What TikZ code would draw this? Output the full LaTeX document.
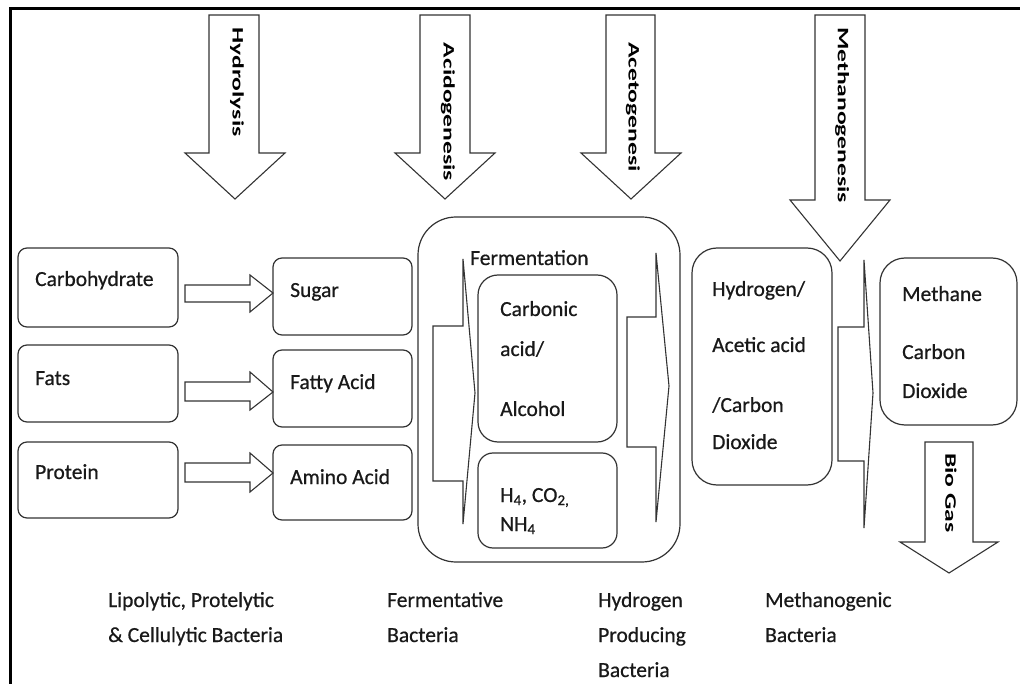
\documentclass[tikz,border=0pt]{standalone}
\usepackage{fontspec}
\setmainfont{Carlito}
\newfontfamily\darkfont{Carlito}[FakeBold=0.6]
\begin{document}
\begin{tikzpicture}[x=1pt,y=-1pt,
  box/.style={draw=black!80, line width=1.2pt, fill=white, rounded corners=#1, inner sep=0pt},
  box/.default=9pt,
  blk/.style={draw=black!80, line width=1.1pt, fill=white, line join=miter},
  txt/.style={anchor=base west, inner sep=0pt, text=black!90, font=\darkfont\fontsize{21.5}{26}\selectfont},
  vtxt/.style={rotate=-90, inner sep=0pt, font=\bfseries\fontsize{16}{16}\selectfont},
  frame/.style={draw=black, line width=3pt}]
\useasboundingbox (0,0) rectangle (1020,684);
% frame
\draw[frame] (10.5,684) -- (10.5,8.5) -- (1020,8.5);

% process arrows (down)
\draw[blk] (209,15) -- (259,15) -- (259,153) -- (285,153) -- (235,199) -- (185,153) -- (209,153) -- cycle;
\node[vtxt] (hyd) at (237,82) {\scalebox{1.6}[1]{Hydrolysis}};
\draw[blk] (420,15) -- (470,15) -- (470,153) -- (495,153) -- (445,199) -- (395,153) -- (420,153) -- cycle;
\node[vtxt] (acid) at (448,112) {\scalebox{1.6}[1]{Acidogenesis}};
\draw[blk] (606,15) -- (655,15) -- (655,153) -- (681,153) -- (631,199) -- (581,153) -- (606,153) -- cycle;
\node[vtxt] (acet) at (633,107) {\scalebox{1.6}[1]{Acetogenesi}};
\draw[blk] (815,15) -- (865,15) -- (865,200) -- (890,200) -- (840,261) -- (790,200) -- (815,200) -- cycle;
\node[vtxt] (meth) at (842,115) {\scalebox{1.6}[1]{Methanogenesis}};

% left boxes
\node[box, minimum width=160pt, minimum height=79pt] (carb) at (98,287.5) {};
\node[box, minimum width=160pt, minimum height=77pt] (fats) at (98,383.5) {};
\node[box, minimum width=160pt, minimum height=76pt] (prot) at (98,480) {};
\node[txt] (carbt) at (35,286) {Carbohydrate};
\node[txt] (fatst) at (35,385) {Fats};
\node[txt] (prott) at (35,479) {Protein};

\node[box, minimum width=139pt, minimum height=77pt] (sug) at (342.5,296.5) {};
\node[box, minimum width=139pt, minimum height=77pt] (fac) at (342.5,388.5) {};
\node[box, minimum width=139pt, minimum height=75pt] (ami) at (342.5,482.5) {};
\node[txt] (sugt) at (290,297) {Sugar};
\node[txt] (fact) at (290,389) {Fatty Acid};
\node[txt] (amit) at (290,484) {Amino Acid};

% small arrows
\draw[blk] (185,285) -- (250,285) -- (250,275) -- (273,293) -- (250,312) -- (250,302) -- (185,302) -- cycle;
\draw[blk] (185,382) -- (250,382) -- (250,372) -- (273,392) -- (250,410) -- (250,401) -- (185,401) -- cycle;
\draw[blk] (185,463) -- (250,463) -- (250,453) -- (273,473) -- (250,492) -- (250,482) -- (185,482) -- cycle;

% fermentation container
\node[box=38pt, minimum width=262pt, minimum height=345pt] (ferm) at (549,389.5) {};
\draw[blk] (433,326) -- (463,326) -- (463,259) -- (475,393) -- (463,524) -- (463,481) -- (433,481) -- cycle;
\node[txt] (fermt) at (470,265) {Fermentation};
\node[box=20pt, minimum width=139pt, minimum height=167pt] (carbo) at (547.5,358.5) {};
\node[txt] (c1) at (500,316) {Carbonic};
\node[txt] (c2) at (500,356) {acid/};
\node[txt] (c3) at (500,416) {Alcohol};
\node[box=15pt, minimum width=139pt, minimum height=95pt] (hco) at (547.5,500.5) {};
\node[txt] (h1) at (500,502) {H\textsubscript{4}, CO\textsubscript{2,}};
\node[txt] (h2) at (500,531) {NH\textsubscript{4}};
\draw[blk] (627,317) -- (656,317) -- (656,253) -- (669,386) -- (656,522) -- (656,447) -- (627,447) -- cycle;

% hydrogen box
\node[box=25pt, minimum width=140pt, minimum height=237pt] (hyb) at (762,366.5) {};
\node[txt] (y1) at (712,296) {Hydrogen/};
\node[txt] (y2) at (712,352) {Acetic acid};
\node[txt] (y3) at (712,412) {/Carbon};
\node[txt] (y4) at (712,449) {Dioxide};

% methanogenic chevron
\draw[blk] (838,327) -- (864,327) -- (864,260) -- (873,393) -- (864,528) -- (864,461) -- (838,461) -- cycle;

% methane box
\node[box=25pt, minimum width=137pt, minimum height=167pt] (mb) at (948.5,341.5) {};
\node[txt] (m1) at (902,301) {Methane};
\node[txt] (m2) at (902,359) {Carbon};
\node[txt] (m3) at (902,398) {Dioxide};

% bio gas arrow
\draw[blk] (925,442) -- (973,442) -- (973,542) -- (998,542) -- (949,573) -- (900,542) -- (925,542) -- cycle;
\node[vtxt] (bio) at (951,493) {\scalebox{1.6}[1]{Bio Gas}};

% bacteria labels
\node[txt] (b1) at (108,607) {Lipolytic, Protelytic};
\node[txt] (b2) at (108,642) {\& Cellulytic Bacteria};
\node[txt] (b3) at (387,607) {Fermentative};
\node[txt] (b4) at (387,642) {Bacteria};
\node[txt] (b5) at (598,607) {Hydrogen};
\node[txt] (b6) at (598,642) {Producing};
\node[txt] (b7) at (598,677) {Bacteria};
\node[txt] (b8) at (765,607) {Methanogenic};
\node[txt] (b9) at (765,642) {Bacteria};
\end{tikzpicture}
\end{document}
